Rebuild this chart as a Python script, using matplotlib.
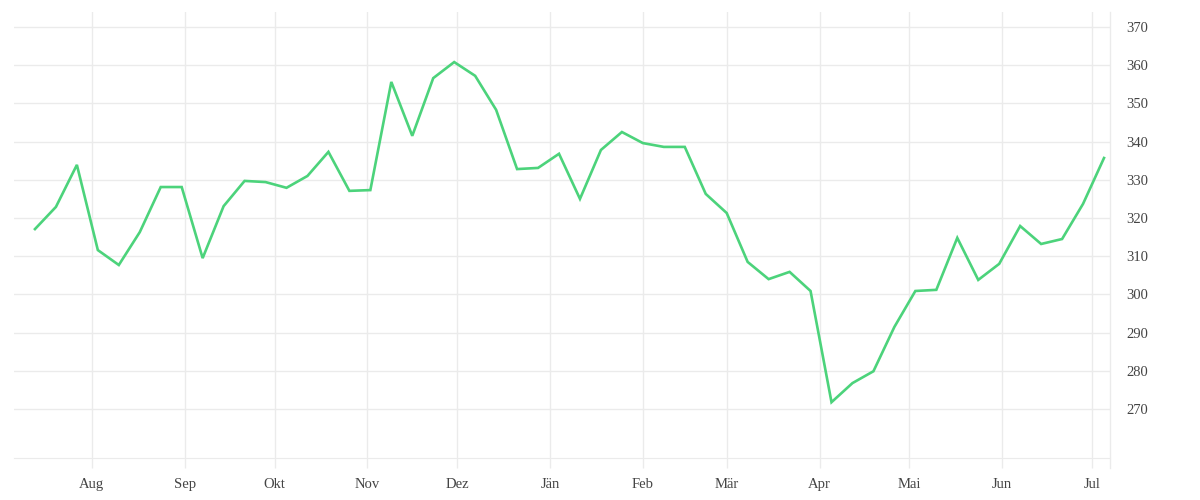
import numpy as np
import pandas as pd
import matplotlib
matplotlib.use('Agg')
import matplotlib.pyplot as plt
import matplotlib.dates as mdates

# weekly values
start_date = '2018-07-13'
values = [317.1, 322.9, 333.9, 311.6, 307.7, 316.3, 328.1, 328.1, 309.5, 323.1,
          329.7, 329.4, 327.9, 331.0, 337.3, 327.1, 327.3, 355.6, 341.5, 356.6,
          360.8, 357.2, 348.3, 332.8, 333.1, 336.8, 325.0, 337.8, 342.5, 339.6,
          338.6, 338.6, 326.3, 321.3, 308.5, 304.0, 305.9, 300.9, 271.8, 276.8,
          279.9, 291.5, 300.9, 301.2, 314.8, 303.8, 308.0, 317.9, 313.2, 314.5,
          323.7, 335.7]
month_labels = ['Aug', 'Sep', 'Okt', 'Nov', 'Dez', 'Jän', 'Feb', 'Mär',
                'Apr', 'Mai', 'Jun', 'Jul']
y_ticks = [270, 280, 290, 300, 310, 320, 330, 340, 350, 360, 370]

dates = pd.date_range(start_date, periods=len(values), freq='7D')
month_ticks = pd.date_range('2018-08-01', periods=len(month_labels), freq='MS')

grid_col = '#ebebeb'
text_col = '#444444'
plt.rcParams['font.family'] = ['Liberation Serif', 'DejaVu Serif']

fig = plt.figure(figsize=(12, 5), dpi=100)
ax = fig.add_axes([14 / 1200, 1 - 458 / 500, 1096 / 1200, 446 / 500])

ax.plot(dates, values, color='#4cd37b', linewidth=1.9, solid_joinstyle='miter')

ax.set_xlim(pd.Timestamp('2018-07-06'), pd.Timestamp('2019-07-07'))
ax.set_ylim(257.2, 373.9)

ax.set_xticks(month_ticks)
ax.set_xticklabels(month_labels)
ax.set_yticks(y_ticks)
ax.yaxis.tick_right()

ax.grid(True, color=grid_col, linewidth=1)
ax.tick_params(axis='x', length=7.2, width=1, color=grid_col, pad=7.5,
               labelsize=10.5, labelcolor=text_col)
ax.tick_params(axis='y', length=0, pad=12, labelsize=10.5, labelcolor=text_col)

for s in ['top', 'left']:
    ax.spines[s].set_visible(False)
ax.spines['bottom'].set_color(grid_col)
ax.spines['right'].set_visible(False)
ax.plot([1, 1], [-0.022, 1], transform=ax.transAxes, color=grid_col,
        linewidth=1, clip_on=False)

fig.savefig('out.png', dpi=100)
